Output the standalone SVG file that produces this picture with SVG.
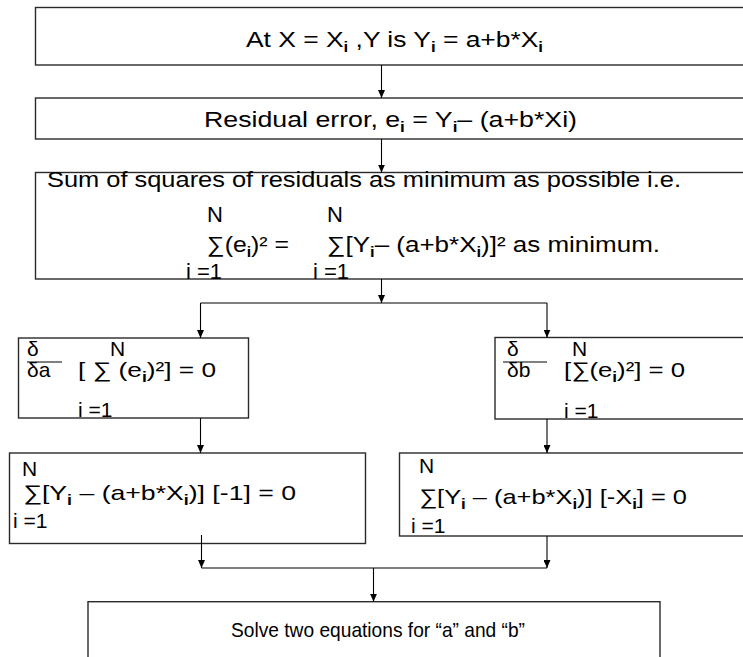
<svg xmlns="http://www.w3.org/2000/svg" width="743" height="657" viewBox="0 0 743 657">
<style>
.box{fill:#fff;stroke:#2a2a2a;stroke-width:1.4}
.t{font-family:"Liberation Sans",Arial,sans-serif;font-size:21px;fill:#000}
.u{font-size:22px}
.s{font-size:14px;font-weight:bold}
.c{stroke:#000;stroke-width:1.1;fill:none}
</style>
<defs>
<marker id="ah" markerUnits="userSpaceOnUse" markerWidth="8" markerHeight="7" refX="8" refY="3.5" orient="auto">
<path d="M0,0 L8,3.5 L0,7 z" fill="#000"/>
</marker>
</defs>
<rect width="743" height="657" fill="#fff"/>
<g id="n1">
<rect class="box" x="35.5" y="7.5" width="720" height="57.5"/>
<text class="t u" x="246" y="47" textLength="297" lengthAdjust="spacingAndGlyphs">At X = X<tspan class="s" dy="5">i</tspan><tspan dy="-5"> ,Y is Y</tspan><tspan class="s" dy="5">i</tspan><tspan dy="-5"> = a+b*X</tspan><tspan class="s" dy="5">i</tspan></text>
</g>
<g id="n2">
<rect class="box" x="35.5" y="98" width="720" height="41"/>
<text class="t u" x="204" y="127" textLength="373" lengthAdjust="spacingAndGlyphs">Residual error, e<tspan class="s" dy="5">i</tspan><tspan dy="-5"> = Y</tspan><tspan class="s" dy="5">i</tspan><tspan dy="-5">– (a+b*Xi)</tspan></text>
</g>
<g id="n3">
<rect class="box" x="35.5" y="172.5" width="720" height="106.5"/>
<text class="t u" x="47" y="187" textLength="634" lengthAdjust="spacingAndGlyphs">Sum of squares of residuals as minimum as possible i.e.</text>
<text class="t u" x="207" y="222">N</text>
<text class="t u" x="327" y="222">N</text>
<text class="t u" x="207" y="252" textLength="82" lengthAdjust="spacingAndGlyphs">∑(e<tspan class="s" dy="5">i</tspan><tspan dy="-5">)² =</tspan></text>
<text class="t u" x="327" y="252" textLength="333" lengthAdjust="spacingAndGlyphs">∑[Y<tspan class="s" dy="5">i</tspan><tspan dy="-5">– (a+b*X</tspan><tspan class="s" dy="5">i</tspan><tspan dy="-5">)]² as minimum.</tspan></text>
<text class="t u" x="186" y="279">i =1</text>
<text class="t u" x="313" y="279">i =1</text>
</g>
<g id="n4">
<rect class="box" x="18.5" y="338" width="230" height="80"/>
<text class="t" x="27" y="356">δ</text>
<line x1="27" y1="362" x2="62" y2="362" stroke="#000" stroke-width="1"/>
<text class="t" x="110" y="356">N</text>
<text class="t" x="27" y="377">δa</text>
<text class="t" x="78" y="377" textLength="138" lengthAdjust="spacingAndGlyphs">[ ∑ (e<tspan class="s" dy="5">i</tspan><tspan dy="-5">)²] = 0</tspan></text>
<text class="t" x="78" y="417">i =1</text>
</g>
<g id="n5">
<rect class="box" x="495" y="337.5" width="260" height="81.5"/>
<text class="t" x="507" y="356">δ</text>
<line x1="503" y1="362" x2="547" y2="362" stroke="#000" stroke-width="1"/>
<text class="t" x="572" y="356">N</text>
<text class="t" x="507" y="377">δb</text>
<text class="t" x="564" y="377" textLength="121" lengthAdjust="spacingAndGlyphs">[∑(e<tspan class="s" dy="5">i</tspan><tspan dy="-5">)²] = 0</tspan></text>
<text class="t" x="564" y="418">i =1</text>
</g>
<g id="n6">
<rect class="box" x="9.5" y="453" width="356" height="90.5"/>
<text class="t" x="22" y="476">N</text>
<text class="t" x="23" y="500" textLength="273" lengthAdjust="spacingAndGlyphs">∑[Y<tspan class="s" dy="5">i</tspan><tspan dy="-5"> – (a+b*X</tspan><tspan class="s" dy="5">i</tspan><tspan dy="-5">)] [-1] = 0</tspan></text>
<text class="t" x="13" y="528">i =1</text>
</g>
<g id="n7">
<rect class="box" x="399.5" y="453" width="360" height="83"/>
<text class="t" x="419" y="473">N</text>
<text class="t" x="419" y="504" textLength="268" lengthAdjust="spacingAndGlyphs">∑[Y<tspan class="s" dy="5">i</tspan><tspan dy="-5"> – (a+b*X</tspan><tspan class="s" dy="5">i</tspan><tspan dy="-5">)] [-X</tspan><tspan class="s" dy="5">i</tspan><tspan dy="-5">] = 0</tspan></text>
<text class="t" x="411" y="533">i =1</text>
</g>
<g id="n8">
<rect class="box" x="88" y="601.7" width="572" height="80"/>
<text class="t" x="231" y="637" textLength="294" lengthAdjust="spacingAndGlyphs">Solve two equations for “a” and “b”</text>
</g>
<g id="connectors">
<line class="c" x1="381.5" y1="65" x2="381.5" y2="98" marker-end="url(#ah)"/>
<line class="c" x1="381.5" y1="139" x2="381.5" y2="172.5" marker-end="url(#ah)"/>
<line class="c" x1="381.5" y1="279" x2="381.5" y2="303" marker-end="url(#ah)"/>
<line class="c" x1="200.5" y1="303" x2="547" y2="303"/>
<line class="c" x1="200.5" y1="303" x2="200.5" y2="338" marker-end="url(#ah)"/>
<line class="c" x1="547" y1="303" x2="547" y2="337.5" marker-end="url(#ah)"/>
<line class="c" x1="200.5" y1="418" x2="200.5" y2="453" marker-end="url(#ah)"/>
<line class="c" x1="547" y1="419" x2="547" y2="453" marker-end="url(#ah)"/>
<line class="c" x1="201.5" y1="535" x2="201.5" y2="568" marker-end="url(#ah)"/>
<line class="c" x1="547" y1="536" x2="547" y2="568" marker-end="url(#ah)"/>
<line class="c" x1="201.5" y1="568" x2="547" y2="568"/>
<line class="c" x1="373.5" y1="568" x2="373.5" y2="601.7" marker-end="url(#ah)"/>
</g>
</svg>
